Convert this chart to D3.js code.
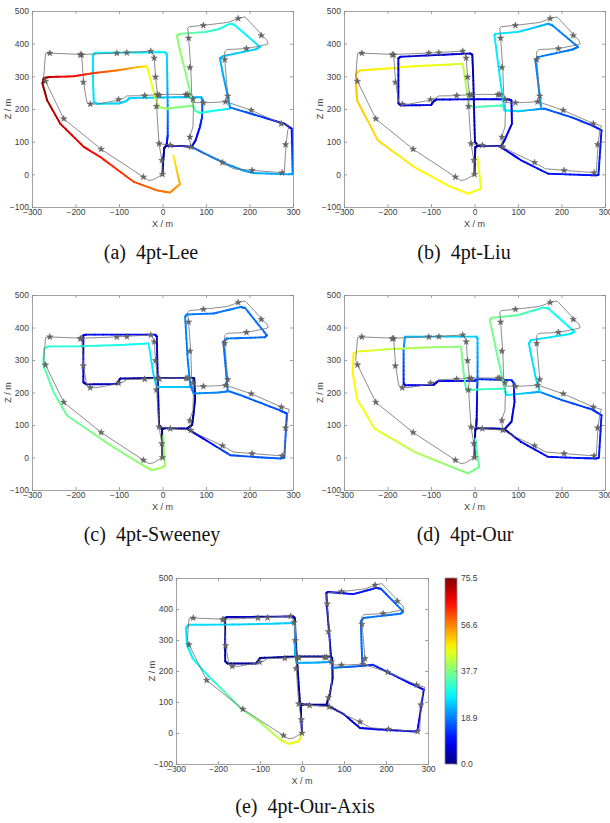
<!DOCTYPE html>
<html>
<head>
<meta charset="utf-8">
<script src="https://cdn.jsdelivr.net/npm/d3@7"></script>
<style>
  body { margin: 0; background: #fff; }
  .tick text { font-family: "Liberation Sans", Arial, sans-serif; font-size: 8.5px; fill: #404040; }
  .axis path, .axis line { stroke: #8a8a8a; stroke-width: 0.8px; }
  .ttl { font-family: "Liberation Sans", Arial, sans-serif; font-size: 9px; fill: #404040; }
  .cap { font-family: "Liberation Serif", "Times New Roman", serif; font-size: 20px; fill: #111; }
</style>
</head>
<body>
<div id="chart"></div>
<script>
// ---- data ----
const xTicks = [-300, -200, -100, 0, 100, 200, 300];
const zTicks = [-100, 0, 100, 200, 300, 400, 500];
const errMax = 75.5;
const cbTicks = [0, 18.9, 37.7, 56.6, 75.5];
const captions = ["(a)\u20024pt-Lee", "(b)\u20024pt-Liu", "(c)\u20024pt-Sweeney", "(d)\u20024pt-Our", "(e)\u20024pt-Our-Axis"];

// ground truth polylines [x, z]
const gtMain = [[0,0],[-1.5,43],[-8,94],[-13,196],[-14,208],[-11.5,244],[-16,298],[-19,356],[-24,374],[-27,377],[-82,373],[-105,371],[-186,367],[-259,371],[-269,369],[-273,298],[-269,285],[-227,170],[-141,77],[-44,-8],[-31,-19],[-20,-16],[0,0]];
const gtInner = [[-11.5,244],[-41,241],[-82,240],[-91,232],[-101,227],[-151,215],[-168,215],[-174,221],[-181,278],[-186,367]];
const gtMid = [[-11.5,244],[25,245],[56,244],[68,243]];
const gtEast = [[-8,94],[18,89],[65,84],[87,68],[138,36],[163,17],[207,12],[275,5],[280,8],[284,91],[288,135],[292,148],[274,155],[204,196],[147,222],[94,219],[71,220]];
const gtNorth = [[65,84],[62,114],[70,145],[71,196],[70,230],[67,247],[65,327],[60,417],[58,448],[62,452],[94,456],[150,465],[174,477],[190,482],[240,410],[243,400],[238,397],[194,385],[148,382],[143,375],[143,351],[150,242],[147,222]];
const stars = [[-259,371],[-186,366],[-189,366],[-182,282],[-166,215],[-101,229],[-41,241],[-105,371],[-82,372],[-27,377],[-19,356],[-16,298],[-11.5,244],[-7,242],[-14,208],[-8,94],[-1.5,43],[0,0],[-44,-8],[-141,77],[-227,170],[-269,285],[18,89],[65,84],[138,36],[206,12],[275,5],[283,91],[273,155],[204,196],[145,222],[150,240],[143,351],[193,385],[227,425],[174,477],[94,456],[60,417],[63,327],[70,230],[94,219],[54,244],[58,244],[63,114]];

// estimated trajectories [x, z, error]
const leeLines = [
  [[0,0,1],[2,50,2],[4,80,3],[8,87,4],[40,87,5],[67,84,7]],
  [[67,84,7],[76,104,9],[86,145,11],[91,175,13],[92,226,18],[89,236,23]],
  [[89,236,23],[40,236,24],[-60,234,25],[-76,233,25],[-84,224,25],[-100,217,25],[-150,216,26],[-158,222,26],[-160,300,26],[-160,365,26],[-155,372,27],[-50,373,27],[5,374,27],[10,368,26],[11,300,24],[12,200,20],[12,120,14],[10,95,9],[8,87,5]],
  [[155,201,26],[120,195,29],[86,188,31],[75,195,34],[70,210,37],[40,206,38],[10,201,39],[-9,206,41],[-17,237,44],[-36,331,48],[-59,328,52],[-105,318,57],[-158,310,62],[-205,300,66],[-258,298,70],[-273,295,74],[-276,278,75],[-265,226,73],[-235,155,70],[-181,84,67],[-143,53,65],[-66,-23,61],[-13,-49,58],[17,-56,57],[40,-30,54],[25,58,48]],
  [[70,212,37],[55,300,38],[40,380,39],[33,425,39],[40,430,37],[100,436,33],[130,445,31],[155,461,30],[165,458,29],[224,390,26],[215,383,25],[140,362,24],[132,355,23],[140,300,22],[150,240,21],[155,205,21]],
  [[155,205,18],[230,175,13],[280,155,10],[297,140,9],[298,80,14],[299,2,20],[290,0,22],[209,4,22],[185,12,21],[150,30,20],[110,55,19],[67,84,16]]
];
const liuLines = [
  [[0,0,1],[1,50,2],[2,84,3],[8,87,4],[40,87,5],[58,86,6]],
  [[58,86,6],[73,73,8],[107,43,10],[169,2,11],[250,-2,11],[280,-3,11],[285,-1,11],[292,135,11],[270,150,12],[222,175,14],[161,201,17],[150,200,20],[100,193,25],[69,196,28]],
  [[69,196,28],[66,211,33],[40,209,34],[0,206,35],[-13,210,37],[-17,250,40],[-27,339,43],[-60,336,45],[-150,330,47],[-200,324,48],[-265,318,49],[-272,308,51],[-272,270,51],[-270,226,51],[-222,104,50],[-138,22,48],[-60,-35,47],[-15,-59,47],[15,-44,46],[7,53,46]],
  [[61,86,6],[69,104,7],[86,155,8],[85,226,8],[80,229,8],[40,230,7],[-88,229,7],[-95,222,7],[-100,212,7],[-169,211,7],[-175,218,7],[-175,355,7],[-170,360,7],[-10,370,6],[-5,366,5],[-3,300,4],[-1,200,4],[1,100,3],[8,87,3]],
  [[69,196,27],[58,300,27],[46,425,27],[48,430,27],[100,436,26],[140,450,24],[169,461,22],[180,455,20],[238,390,18],[225,382,18],[146,359,19],[140,350,19],[148,260,20],[153,206,21]]
];
const sweeneyLines = [
  [[0,0,1],[-1,50,1],[-1,89,2],[5,90,2],[56,89,2],[68,100,2],[71,130,2],[75,181,2],[73,243,2],[68,245,2],[-13,245,2],[-97,243,3],[-101,235,3],[-105,226,4],[-175,225,5],[-182,232,6],[-182,376,9],[-176,378,9],[-17,378,10],[-13,372,8],[-12,300,6],[-10,200,4],[-8,100,3],[-1,89,2]],
  [[56,89,3],[94,58,9],[156,7,15],[230,0,16],[271,-3,17],[280,0,16],[286,135,14],[270,145,15],[179,192,17],[152,204,18],[130,200,19],[71,197,20]],
  [[71,217,23],[40,217,24],[-13,217,25],[-20,250,26],[-32,351,28],[-100,346,30],[-200,342,31],[-262,342,32],[-272,335,33],[-274,284,34],[-250,200,35],[-220,130,36],[-120,38,38],[-50,-20,39],[-25,-39,40],[0,-30,40],[6,-24,40],[3,20,40],[2,69,40]],
  [[71,200,19],[64,222,19],[58,300,19],[52,433,19],[56,440,19],[117,443,18],[179,463,18],[190,460,18],[240,376,17],[235,370,17],[148,366,18],[140,356,18],[145,280,18],[150,207,18]]
];
const ourLines = [
  [[0,0,1],[1,50,1],[2,89,2],[8,90,2],[50,89,3],[69,87,4]],
  [[69,87,4],[107,48,8],[169,2,10],[250,-2,11],[280,-3,11],[286,0,11],[292,130,11],[270,148,13],[200,177,16],[150,202,20],[120,198,24],[73,192,27]],
  [[69,87,5],[85,110,7],[92,171,9],[90,230,12],[85,238,13],[8,241,12],[0,236,10],[-84,235,8],[-90,228,8],[-95,223,8],[-160,222,9],[-163,230,11],[-163,330,18],[-160,372,23],[-100,372,24],[4,372,25],[7,366,24],[7,250,18],[6,200,12],[5,120,6],[4,95,4]],
  [[73,192,27],[69,212,32],[20,210,33],[-19,207,34],[-25,260,36],[-31,341,38],[-100,339,40],[-200,333,43],[-270,326,46],[-278,320,48],[-280,260,48],[-270,180,47],[-230,89,46],[-138,17,42],[-60,-25,39],[-15,-49,38],[11,-29,36],[5,20,35],[2,58,34]],
  [[73,192,27],[69,213,33],[55,300,36],[35,423,38],[40,430,37],[100,438,35],[157,461,31],[170,458,30],[230,387,27],[220,380,27],[130,361,26],[125,350,26],[140,250,26],[150,202,26]]
];
const ourAxisLines = [
  [[0,0,1],[-2,50,1],[-3,91,2],[3,92,2],[58,91,2],[66,124,2],[73,177,2],[72,240,2],[69,247,2],[-13,247,2],[-100,242,2],[-104,233,2],[-110,224,2],[-177,224,2],[-183,232,3],[-183,371,3],[-178,374,4],[-21,376,5],[-17,370,4],[-15,300,3],[-10,200,2],[-5,100,2],[-3,91,2]],
  [[58,91,3],[100,60,6],[138,16,8],[200,10,9],[268,5,9],[275,8,9],[290,140,9],[250,165,10],[169,220,12],[130,215,16],[70,210,19]],
  [[70,229,21],[30,227,22],[-13,226,22],[-17,260,23],[-17,355,24],[-60,353,25],[-150,350,25],[-270,349,26],[-276,340,26],[-274,285,27],[-260,240,28],[-226,188,30],[-190,140,33],[-147,81,36],[-100,35,40],[-52,-21,43],[-32,-35,46],[-10,-28,46],[-3,-15,45],[0,0,45]],
  [[70,231,5],[66,300,5],[60,400,6],[58,451,7],[62,455,8],[122,448,10],[177,468,12],[188,465,14],[241,392,18],[235,385,18],[146,371,18],[140,360,18],[142,280,17],[144,215,17]]
];

// panel layout
const panels = [
  {lines: leeLines,     x0: 32,  x1: 293, y0: 11,  y1: 207, cx: 151, cy: 259},
  {lines: liuLines,     x0: 344, x1: 605, y0: 11,  y1: 207, cx: 464, cy: 259},
  {lines: sweeneyLines, x0: 32,  x1: 293, y0: 295, y1: 490, cx: 152, cy: 541},
  {lines: ourLines,     x0: 344, x1: 605, y0: 295, y1: 490, cx: 465, cy: 541},
  {lines: ourAxisLines, x0: 176, x1: 428, y0: 578, y1: 764, cx: 305, cy: 813}
];

// MATLAB-like jet colormap
function jet(t) {
  t = Math.max(0, Math.min(1, t));
  const c = v => Math.round(255 * Math.max(0, Math.min(1, v)));
  return `rgb(${c(1.5 - Math.abs(4 * t - 3))},${c(1.5 - Math.abs(4 * t - 2))},${c(1.5 - Math.abs(4 * t - 1))})`;
}

const svg = d3.select("#chart").append("svg")
  .attr("width", 610)
  .attr("height", 823)
  .style("background", "#fff");

function drawPanel(p, i) {
  let g = svg.append("g");
  let x = d3.scaleLinear().domain([-300, 300]).range([p.x0, p.x1]);
  let y = d3.scaleLinear().domain([-100, 500]).range([p.y1, p.y0]);

  // box + inward ticks
  g.append("g").attr("class", "axis")
    .attr("transform", `translate(0,${p.y1})`)
    .call(d3.axisBottom(x).tickValues(xTicks).tickSizeInner(-3).tickSizeOuter(0).tickPadding(2));
  g.append("g").attr("class", "axis")
    .attr("transform", `translate(0,${p.y0})`)
    .call(d3.axisTop(x).tickValues(xTicks).tickSizeInner(-3).tickSizeOuter(0).tickFormat(""));
  g.append("g").attr("class", "axis")
    .attr("transform", `translate(${p.x0},0)`)
    .call(d3.axisLeft(y).tickValues(zTicks).tickSizeInner(-3).tickSizeOuter(0).tickPadding(3));
  g.append("g").attr("class", "axis")
    .attr("transform", `translate(${p.x1},0)`)
    .call(d3.axisRight(y).tickValues(zTicks).tickSizeInner(-3).tickSizeOuter(0).tickFormat(""));

  // axis titles
  g.append("text").attr("class", "ttl")
    .attr("x", (p.x0 + p.x1) / 2).attr("y", p.y1 + 19.5)
    .attr("text-anchor", "middle").text("X / m");
  g.append("text").attr("class", "ttl")
    .attr("transform", `translate(${p.x0 - 21},${(p.y0 + p.y1) / 2}) rotate(-90)`)
    .attr("text-anchor", "middle").text("Z / m");

  // colored estimate, split into short pieces for the gradient
  let segs = [];
  p.lines.forEach(line => {
    for (let k = 0; k < line.length - 1; k++) {
      let a = line[k], b = line[k + 1];
      let n = 8;
      for (let j = 0; j < n; j++) {
        let t0 = j / n, t1 = (j + 1) / n, tm = (t0 + t1) / 2;
        segs.push({
          x1: a[0] + (b[0] - a[0]) * t0, z1: a[1] + (b[1] - a[1]) * t0,
          x2: a[0] + (b[0] - a[0]) * t1, z2: a[1] + (b[1] - a[1]) * t1,
          e: a[2] + (b[2] - a[2]) * tm
        });
      }
    }
  });
  g.append("g").selectAll("line")
    .data(segs)
    .join("line")
    .attr("x1", d => x(d.x1)).attr("y1", d => y(d.z1))
    .attr("x2", d => x(d.x2)).attr("y2", d => y(d.z2))
    .attr("stroke", d => jet(d.e / errMax))
    .attr("stroke-width", 1.9)
    .attr("stroke-linecap", "round");

  // ground truth
  let line = d3.line().x(d => x(d[0])).y(d => y(d[1]));
  g.append("g").selectAll("path")
    .data([gtMain, gtInner, gtMid, gtEast, gtNorth])
    .join("path")
    .attr("d", line)
    .attr("fill", "none")
    .attr("stroke", "#6e6e6e")
    .attr("stroke-width", 0.8);

  g.append("g").selectAll("path")
    .data(stars)
    .join("path")
    .attr("d", d3.symbol(d3.symbolStar, 13))
    .attr("transform", d => `translate(${x(d[0])},${y(d[1])})`)
    .attr("fill", "#666")
    .attr("stroke", "#555")
    .attr("stroke-width", 0.4);

  // caption
  svg.append("text").attr("class", "cap")
    .attr("x", p.cx).attr("y", p.cy)
    .attr("text-anchor", "middle")
    .text(captions[i]);
}

panels.forEach(drawPanel);

// colorbar for panel (e)
const cb = {x: 445, w: 12, y0: 578, y1: 764};
const grad = svg.append("defs").append("linearGradient")
  .attr("id", "jetGrad")
  .attr("x1", 0).attr("y1", 1).attr("x2", 0).attr("y2", 0);
d3.range(0, 1.0001, 0.05).forEach(t => {
  grad.append("stop").attr("offset", t).attr("stop-color", jet(t));
});
svg.append("rect")
  .attr("x", cb.x).attr("y", cb.y0)
  .attr("width", cb.w).attr("height", cb.y1 - cb.y0)
  .attr("fill", "url(#jetGrad)")
  .attr("stroke", "#8a8a8a").attr("stroke-width", 0.8);
const cbScale = d3.scaleLinear().domain([0, errMax]).range([cb.y1, cb.y0]);
svg.append("g").attr("class", "axis")
  .attr("transform", `translate(${cb.x + cb.w},0)`)
  .call(d3.axisRight(cbScale).tickValues(cbTicks).tickFormat(d3.format(".1f")).tickSizeInner(-2).tickSizeOuter(0).tickPadding(4))
  .call(s => s.select(".domain").remove());
</script>
</body>
</html>
